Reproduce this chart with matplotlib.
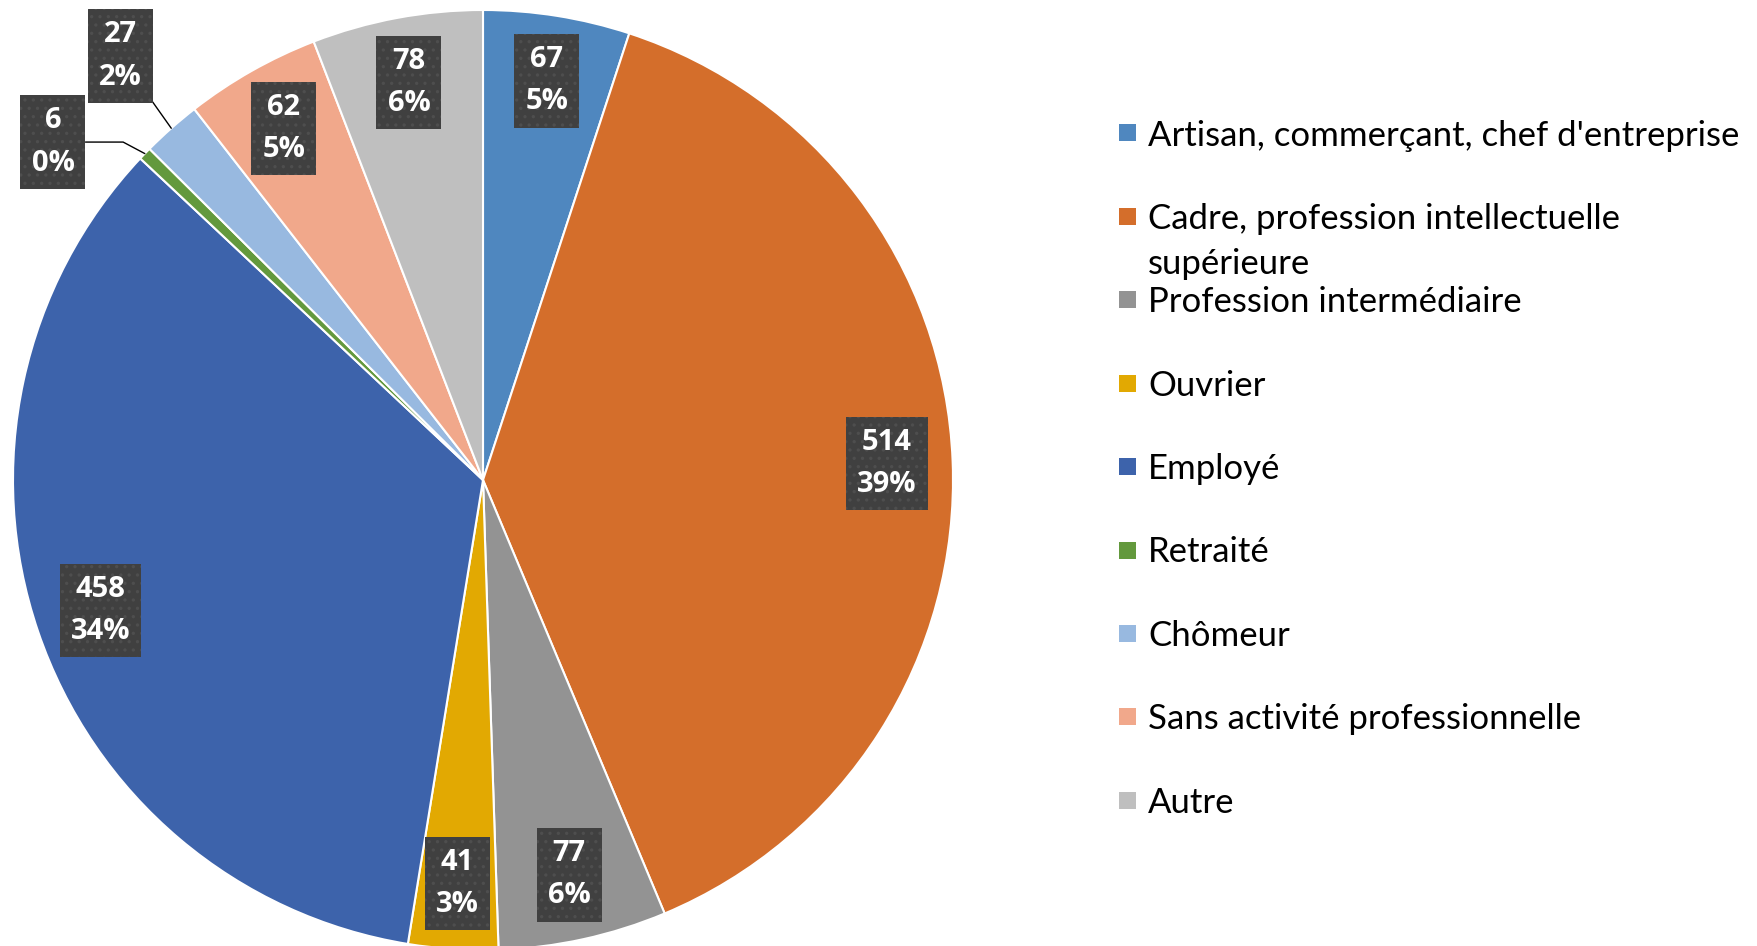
import matplotlib
matplotlib.use("Agg")
import matplotlib.pyplot as plt
from matplotlib.patches import Rectangle
import numpy as np

categories = [
    "Artisan, commerçant, chef d'entreprise",
    "Cadre, profession intellectuelle\nsupérieure",
    "Profession intermédiaire",
    "Ouvrier",
    "Employé",
    "Retraité",
    "Chômeur",
    "Sans activité professionnelle",
    "Autre",
]
values = [67, 514, 77, 41, 458, 6, 27, 62, 78]
colors = ["#4F87BF", "#D46E2B", "#939393", "#E2A902", "#3D63AB",
          "#63993D", "#98B9E0", "#F1A88B", "#BFBFBF"]

W, H = 1757, 946
fig = plt.figure(figsize=(W / 100, H / 100), dpi=100)
cx, cy, R = 483, 480, 470
ax = fig.add_axes([(cx - R) / W, (H - cy - R) / H, 2 * R / W, 2 * R / H])

wedges, _ = ax.pie(values, colors=colors, startangle=90, counterclock=False,
                   radius=1, wedgeprops=dict(edgecolor="white", linewidth=1.5))
ax.set_xlim(-1, 1)
ax.set_ylim(-1, 1)
ax.set_aspect("equal")
ax.axis("off")

plt.rcParams["hatch.linewidth"] = 1.2
total = sum(values)
label_font = dict(family=["Open Sans", "DejaVu Sans"], fontsize=21, fontweight="bold",
                  color="white", ha="center", va="center", linespacing=1.6)
box = dict(boxstyle="square,pad=0.38", facecolor="#404040", edgecolor="#4e4e4e",
           linewidth=0, hatch="..")

# outside label positions (axes data coords) for the two smallest slices
outside = {5: ((-0.915, 0.719), "angle,angleA=0,angleB=-28,rad=0"),
           6: ((-0.772, 0.902), "arc3,rad=0")}

for i, (w, v) in enumerate(zip(wedges, values)):
    theta = np.deg2rad((w.theta1 + w.theta2) / 2)
    txt = f"{v}\n{round(100 * v / total)}%"
    if i in outside:
        pos, cs = outside[i]
        ax.annotate(txt, xy=(np.cos(theta), np.sin(theta)), xytext=pos,
                    bbox=box, arrowprops=dict(arrowstyle="-", color="black",
                                              lw=1.0, connectionstyle=cs,
                                              shrinkA=0, shrinkB=0),
                    **label_font)
    else:
        r = 0.86
        ax.text(r * np.cos(theta), r * np.sin(theta), txt, bbox=box, **label_font)

# legend (drawn manually to reproduce the wrapped entry layout)
leg_x_marker, leg_x_text = 1119, 1148
y0, step, msize, line_h = 133, 83.4, 17, 45
for i, (cat, col) in enumerate(zip(categories, colors)):
    yc = y0 + i * step
    fig.patches.append(Rectangle((leg_x_marker / W, (H - yc - msize / 2) / H),
                                 msize / W, msize / H, transform=fig.transFigure,
                                 facecolor=col, edgecolor="none"))
    for k, line in enumerate(cat.split("\n")):
        fig.text(leg_x_text / W, (H - yc - 12.5 - k * line_h) / H, line,
                 ha="left", va="baseline", fontsize=25,
                 family=["Lato", "DejaVu Sans"], color="black")

fig.savefig("out.png", dpi=100)
